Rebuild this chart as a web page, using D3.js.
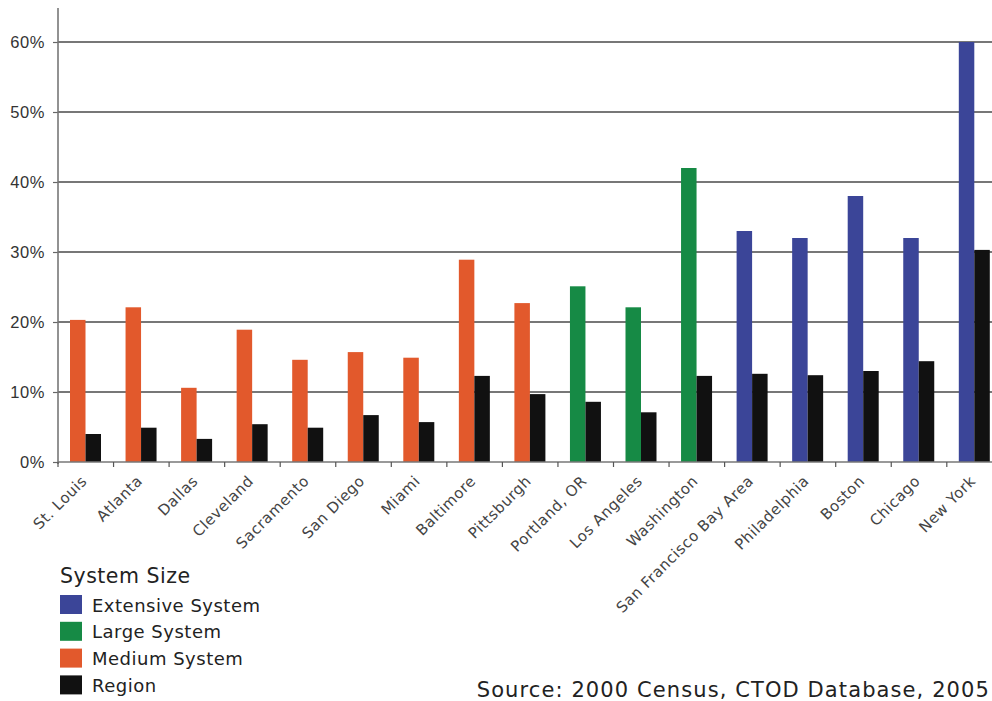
<!DOCTYPE html>
<html><head><meta charset="utf-8">
<script src="https://cdn.jsdelivr.net/npm/d3@7"></script>
<style>body{margin:0;background:#fff;}svg{display:block;font-family:"DejaVu Sans",Verdana,sans-serif;}</style>
</head><body>
<svg id="chart" width="992" height="701"></svg>
<script>
const cities = ["St. Louis","Atlanta","Dallas","Cleveland","Sacramento","San Diego","Miami","Baltimore","Pittsburgh","Portland, OR","Los Angeles","Washington","San Francisco Bay Area","Philadelphia","Boston","Chicago","New York"];
const systemSize = ["Medium","Medium","Medium","Medium","Medium","Medium","Medium","Medium","Medium","Large","Large","Large","Extensive","Extensive","Extensive","Extensive","Extensive"];
const systemValues = [20.3,22.1,10.6,18.9,14.6,15.7,14.9,28.9,22.7,25.1,22.1,42.0,33.0,32.0,38.0,32.0,60.0];
const regionValues = [4.0,4.9,3.3,5.4,4.9,6.7,5.7,12.3,9.7,8.6,7.1,12.3,12.6,12.4,13.0,14.4,30.3];
const yTicks = [0,10,20,30,40,50,60];
const legendLabels = ["Extensive System","Large System","Medium System","Region"];
const legendKeys = ["Extensive","Large","Medium","Region"];
const colors = {Extensive:"#3b4598",Large:"#168a45",Medium:"#e2592c",Region:"#111111"};

const svg = d3.select("#chart");
const x0 = 58, step = 55.55;
const x = d3.scaleBand().domain(cities).range([x0, x0 + step*cities.length]).paddingInner(0).paddingOuter(0);
const inner = d3.scaleBand().domain(["sys","reg"]).range([12, 12+31]).padding(0);
const y = d3.scaleLinear().domain([0,60]).range([462,42]);

// gridlines
svg.append("g").selectAll("line").data(yTicks.filter(d=>d>0)).join("line")
  .attr("x1",x0).attr("x2",992).attr("y1",d=>y(d)).attr("y2",d=>y(d))
  .attr("stroke","#4a4a4a").attr("stroke-width",1.4);

// bars
const g = svg.append("g");
g.selectAll("rect.sys").data(cities).join("rect").attr("class","sys")
  .attr("x",(d)=>x(d)+inner("sys")).attr("width",inner.bandwidth())
  .attr("y",(d,i)=>y(systemValues[i])).attr("height",(d,i)=>y(0)-y(systemValues[i]))
  .attr("fill",(d,i)=>colors[systemSize[i]]);
g.selectAll("rect.reg").data(cities).join("rect").attr("class","reg")
  .attr("x",(d)=>x(d)+inner("reg")).attr("width",inner.bandwidth())
  .attr("y",(d,i)=>y(regionValues[i])).attr("height",(d,i)=>y(0)-y(regionValues[i]))
  .attr("fill",colors.Region);

// y axis
const yAxis = svg.append("g").attr("transform",`translate(${x0},0)`)
  .call(d3.axisLeft(y).tickValues(yTicks).tickFormat(d=>d+"%").tickSize(5).tickPadding(8));
yAxis.select(".domain").remove();
yAxis.selectAll(".tick line").attr("stroke","#666").attr("stroke-width",1.2);
yAxis.selectAll("text").attr("font-size",16.5).attr("letter-spacing",0.6).attr("fill","#333");
svg.append("line").attr("x1",x0).attr("x2",x0).attr("y1",8).attr("y2",464)
  .attr("stroke","#777").attr("stroke-width",1.6);

// x axis
svg.append("line").attr("x1",x0).attr("x2",992).attr("y1",462).attr("y2",462)
  .attr("stroke","#777").attr("stroke-width",1.6);
const bounds = d3.range(cities.length+1).map(i=>x0+i*x.step());
svg.append("g").selectAll("line").data(bounds).join("line")
  .attr("x1",d=>d).attr("x2",d=>d).attr("y1",462).attr("y2",467)
  .attr("stroke","#555").attr("stroke-width",1.2);
svg.append("g").selectAll("text").data(cities).join("text")
  .attr("transform",d=>`translate(${x(d)+x.bandwidth()/2+2},${482}) rotate(-45)`)
  .attr("text-anchor","end").attr("font-size",15).attr("letter-spacing",0.5).attr("fill","#444").text(d=>d);

// legend
svg.append("text").attr("x",60).attr("y",583).attr("font-size",20.5).attr("letter-spacing",0.5).attr("fill","#222").text("System Size");
const lg = svg.append("g").selectAll("g").data(legendKeys).join("g")
  .attr("transform",(d,i)=>`translate(60,${595+i*26.8})`);
lg.append("rect").attr("width",22).attr("height",19).attr("fill",d=>colors[d]);
lg.append("text").attr("x",32).attr("y",16.5).attr("font-size",18).attr("letter-spacing",0.5).attr("fill","#222")
  .text((d,i)=>legendLabels[i]);

// source
svg.append("text").attr("x",990).attr("y",697).attr("text-anchor","end")
  .attr("font-size",21).attr("letter-spacing",1.1).attr("fill","#222").text("Source: 2000 Census, CTOD Database, 2005");
</script>
</body></html>
